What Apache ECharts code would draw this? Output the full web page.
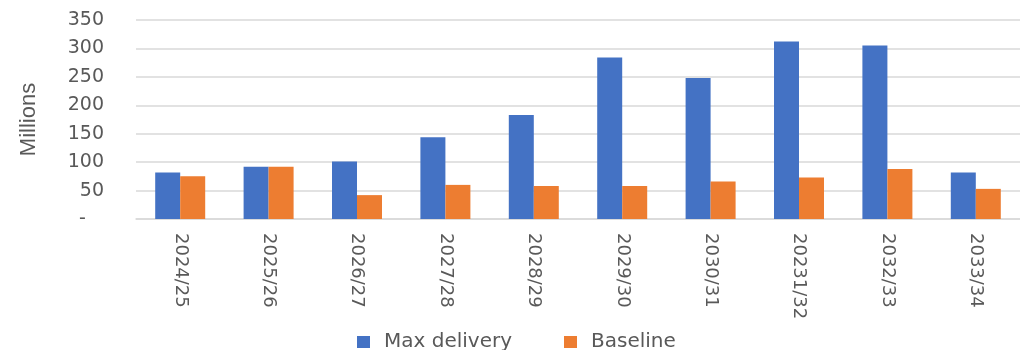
<!DOCTYPE html>
<html lang="en">
<head>
  <meta charset="UTF-8" />
  <title>Max delivery vs Baseline</title>
  <script src="https://cdn.jsdelivr.net/npm/echarts@6/dist/echarts.min.js"></script>
  <style>
    body { margin: 0; background: #fff; }
    #chart { width: 1020px; height: 350px; }
  </style>
</head>
<body>
  <div id="chart"></div>
  <script>
    // data
    const years = ['2024/25', '2025/26', '2026/27', '2027/28', '2028/29',
                   '2029/30', '2030/31', '20231/32', '2032/33', '2033/34'];
    const maxDelivery = [82, 92, 101, 144, 183, 284, 248, 312, 305, 82];
    const baseline = [75, 92, 42, 60, 58, 58, 66, 73, 88, 53];
    const yTicks = { min: 0, max: 350, interval: 50 };

    const grey = '#595959';
    const chart = echarts.init(document.getElementById('chart'));

    chart.setOption({
      animation: false,
      grid: { left: 136, right: -7, top: 20, bottom: 131 },
      legend: {
        data: ['Max delivery', 'Baseline'],
        left: 357,
        top: 330,
        padding: 0,
        itemWidth: 13,
        itemHeight: 12,
        itemGap: 52,
        icon: 'rect',
        textStyle: {
          fontFamily: 'DejaVu Sans',
          fontSize: 20,
          lineHeight: 24,
          color: grey,
          padding: [0, 0, 0, 9]
        }
      },
      xAxis: {
        type: 'category',
        data: years,
        axisLine: { lineStyle: { color: '#d9d9d9', width: 1.5 } },
        axisTick: { show: false },
        axisLabel: {
          rotate: -90,
          margin: 14,
          interval: 0,
          fontFamily: 'DejaVu Sans',
          fontSize: 18,
          color: grey
        }
      },
      yAxis: {
        type: 'value',
        min: yTicks.min,
        max: yTicks.max,
        interval: yTicks.interval,
        name: 'Millions',
        nameLocation: 'middle',
        nameGap: 96,
        nameTextStyle: { fontFamily: 'Liberation Sans', fontSize: 22, color: grey },
        axisLine: { show: false },
        axisTick: { show: false },
        splitLine: { lineStyle: { color: '#d9d9d9', width: 1.5 } },
        axisLabel: {
          margin: 32,
          fontFamily: 'DejaVu Sans',
          fontSize: 19,
          color: grey,
          formatter: v => (v === 0 ? '-   ' : v)
        }
      },
      series: [
        {
          name: 'Max delivery',
          type: 'bar',
          data: maxDelivery,
          barWidth: 25,
          barGap: '0%',
          itemStyle: { color: '#4472C4' }
        },
        {
          name: 'Baseline',
          type: 'bar',
          data: baseline,
          barWidth: 25,
          itemStyle: { color: '#ED7D31' }
        }
      ]
    });
  </script>
</body>
</html>
